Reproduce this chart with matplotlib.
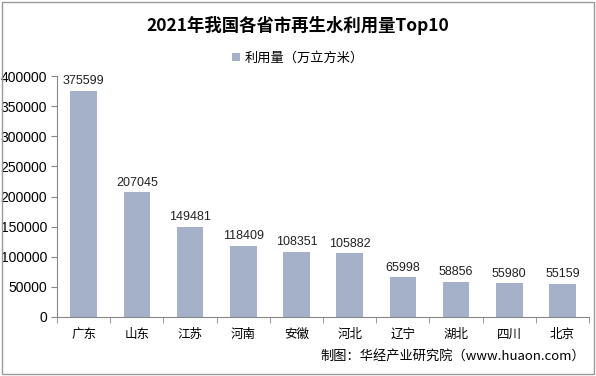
import matplotlib.pyplot as plt
from matplotlib.ticker import MultipleLocator
from matplotlib.patches import Rectangle

plt.rcParams['font.family'] = ['Noto Sans CJK SC', 'DejaVu Sans']

provinces = ["广东", "山东", "江苏", "河南", "安徽", "河北", "辽宁", "湖北", "四川", "北京"]
values = [375599, 207045, 149481, 118409, 108351, 105882, 65998, 58856, 55980, 55159]

fig = plt.figure(figsize=(5.96, 3.76), dpi=100)
ax = fig.add_axes([57/596, 1 - 317/376, 532/596, 241/376])

x = range(len(provinces))
bars = ax.bar(x, values, width=0.5, color="#a5b1c9", label="利用量（万立方米）")
for xi, v in zip(x, values):
    ax.text(xi, v + 6000, str(v), ha="center", va="bottom", fontsize=9,
            family=["Liberation Sans"], color="#222222")

ax.set_xlim(-0.5, len(provinces) - 0.5)
ax.set_ylim(0, 400000)
ax.yaxis.set_major_locator(MultipleLocator(50000))
ax.set_xticks(list(x))
ax.set_xticklabels(provinces, fontsize=9)
ax.tick_params(axis="x", length=0, pad=8)
ax.set_xticks([i + 0.5 for i in range(-1, len(provinces))], minor=True)
ax.tick_params(axis="x", which="minor", length=4, color="#888888")
ax.tick_params(axis="y", labelsize=10, length=4, color="#888888", pad=3)
for lbl in ax.get_yticklabels():
    lbl.set_family(["Liberation Sans"])
for s in ["top", "right"]:
    ax.spines[s].set_visible(False)
ax.spines["left"].set_color("#888888")
ax.spines["bottom"].set_color("#888888")

fig.text(0.5, 1 - 25/376, "2021年我国各省市再生水利用量Top10", ha="center", va="center",
         fontsize=12.5, fontweight="bold")
fig.legend(handles=[bars], loc="center", bbox_to_anchor=(0.5, 1 - 58/376), frameon=False,
           fontsize=9.5, handlelength=0.6, handleheight=0.6, handletextpad=0.3)
fig.text(585/596, 1 - 356/376, "制图：华经产业研究院（www.huaon.com）", ha="right", va="center",
         fontsize=9.5)
fig.patches.append(Rectangle((0.003, 0.004), 0.993, 0.991, transform=fig.transFigure,
                             fill=False, edgecolor="#999999", linewidth=1))

fig.savefig("out.png", dpi=100)
